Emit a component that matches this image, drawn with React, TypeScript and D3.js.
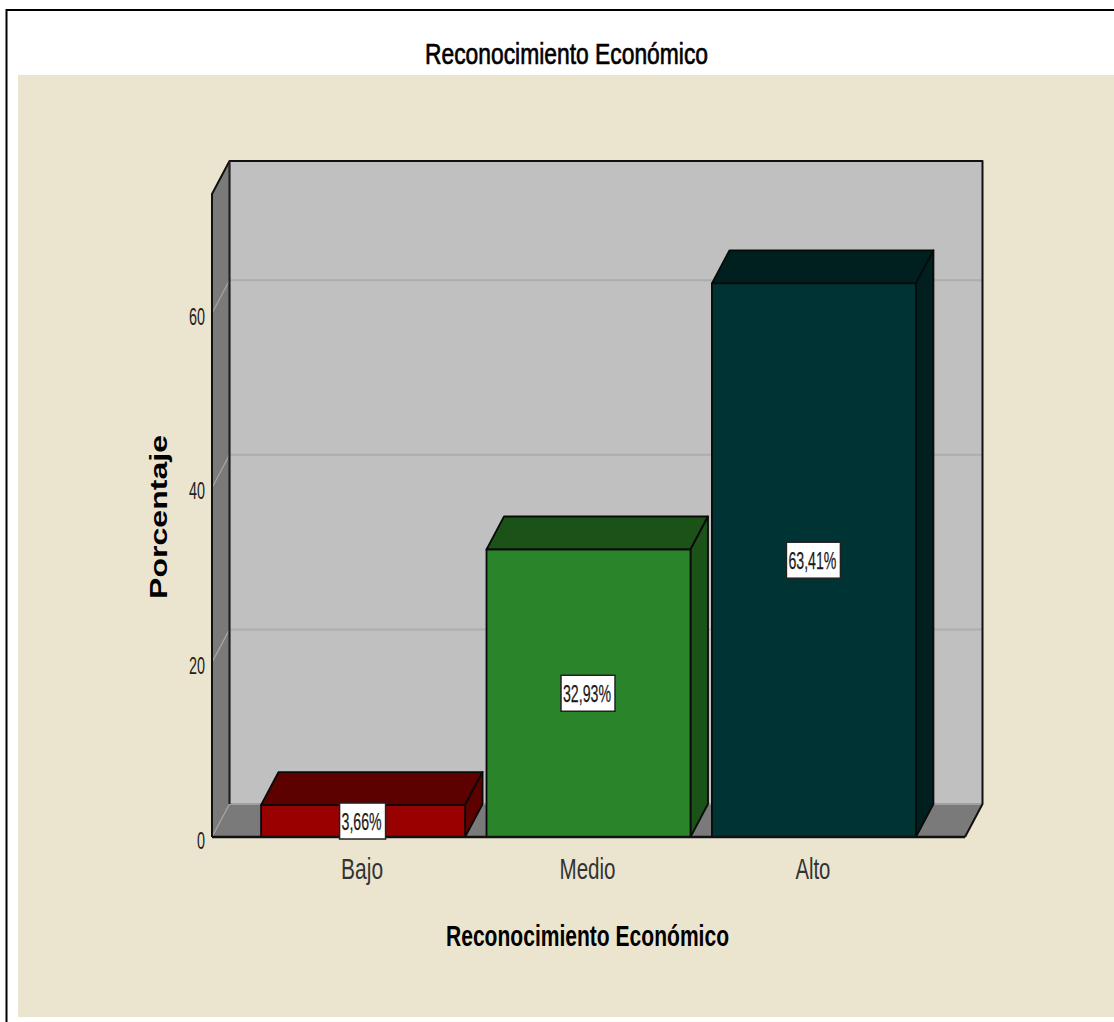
import React from "react";
import * as d3 from "d3";

const categories = ["Bajo", "Medio", "Alto"];
const percentages = [3.66, 32.93, 63.41];
const percentageLabels = ["3,66%", "32,93%", "63,41%"];
const frontColors = ["#990000", "#2a852a", "#003333"];
const shadeColors = ["#5c0000", "#1a5217", "#001f1f"];
const yTicks = [0, 20, 40, 60];
const chartTitle = "Reconocimiento Económico";
const yTitle = "Porcentaje";
const xTitle = "Reconocimiento Económico";

const W = 1114;
const H = 1022;
const DX = 17.5; // horizontal depth of the 3D box
const DY = -33; // vertical depth of the 3D box
const FONT = "'Liberation Sans', Arial, sans-serif";

const yMax = 73.65;
const y = d3.scaleLinear().domain([0, yMax]).range([837, 194]);
const x = d3
  .scaleBand<string>()
  .domain(categories)
  .range([250.25, 926.75])
  .paddingInner(0.095)
  .paddingOuter(0.048);

const floorLeft = 212;
const floorRight = 965;
const line = d3.line();
const poly = (pts: [number, number][]) => line(pts) + "Z";

// Horizontally squeezed or stretched text, as the chart's fonts are not natural width.
function FitText(props: {
  x: number;
  y: number;
  len: number;
  size: number;
  bold?: boolean;
  weight?: number;
  color?: string;
  anchor?: string;
  rotate?: boolean;
  children: string;
}) {
  const { x: tx, y: ty, len, size, bold, weight = 0, color = "#000", anchor = "middle", rotate, children } = props;
  return (
    <text
      x={rotate ? 0 : tx}
      y={rotate ? 0 : ty}
      transform={rotate ? `translate(${tx},${ty}) rotate(-90)` : undefined}
      fontFamily={FONT}
      fontSize={size}
      fontWeight={bold ? 700 : 400}
      fill={color}
      stroke={weight ? color : "none"}
      strokeWidth={weight}
      textAnchor={anchor}
      textLength={len}
      lengthAdjust="spacingAndGlyphs"
    >
      {children}
    </text>
  );
}

export default function App() {
  const y0 = y(0);
  const yTop = y(yMax);
  return (
    <svg
      width={W}
      height={H}
      viewBox={`0 0 ${W} ${H}`}
      style={{ position: "absolute", left: 0, top: 0, background: "#fff" }}
    >
      {/* page frame and panel */}
      <rect x={18} y={75} width={W - 18} height={942} fill="#ebe5d0" />
      <path d={`M6.5,${H}V10H${W}`} fill="none" stroke="#000" strokeWidth={2} />

      {/* 3D walls */}
      <rect x={floorLeft + DX} y={yTop + DY} width={floorRight - floorLeft} height={y0 - yTop} fill="#c0c0c0" />
      <path
        d={poly([
          [floorLeft, yTop],
          [floorLeft + DX, yTop + DY],
          [floorLeft + DX, y0 + DY],
          [floorLeft, y0],
        ])}
        fill="#7a7a7a"
      />
      <path
        d={poly([
          [floorLeft, y0],
          [floorLeft + DX, y0 + DY],
          [floorRight + DX, y0 + DY],
          [floorRight, y0],
        ])}
        fill="#7a7a7a"
      />

      {/* gridlines on back and side walls */}
      {yTicks.map((t) => (
        <g key={t} fill="none">
          <line
            x1={floorLeft + DX}
            x2={floorRight + DX}
            y1={y(t) + DY}
            y2={y(t) + DY}
            stroke={t === 0 ? "#a0a0a0" : "#adadad"}
            strokeWidth={2}
          />
          <line x1={floorLeft} x2={floorLeft + DX} y1={y(t)} y2={y(t) + DY} stroke="#a6a6a6" strokeWidth={1.2} />
        </g>
      ))}

      {/* wall outlines */}
      <path
        d={`M${floorLeft},${y0}V${yTop}L${floorLeft + DX},${yTop + DY}H${floorRight + DX}V${y0 + DY}L${floorRight},${y0}`}
        fill="none"
        stroke="#111"
        strokeWidth={2}
        strokeLinejoin="round"
      />
      <line x1={floorLeft + DX} x2={floorLeft + DX} y1={yTop + DY} y2={y0 + DY} stroke="#222" strokeWidth={2.2} />

      {/* bars */}
      {categories.map((c, i) => {
        const x0 = x(c)!;
        const x1 = x0 + x.bandwidth();
        const top = y(percentages[i]);
        return (
          <g key={c} stroke="#0a0a0a" strokeWidth={1.8} strokeLinejoin="round">
            <path
              d={poly([
                [x0, top],
                [x0 + DX, top + DY],
                [x1 + DX, top + DY],
                [x1, top],
              ])}
              fill={shadeColors[i]}
            />
            <path
              d={poly([
                [x1, top],
                [x1 + DX, top + DY],
                [x1 + DX, y0 + DY],
                [x1, y0],
              ])}
              fill={shadeColors[i]}
            />
            <rect x={x0} y={top} width={x1 - x0} height={y0 - top} fill={frontColors[i]} />
          </g>
        );
      })}

      {/* baseline drawn over the floor */}
      <line x1={floorLeft} x2={floorRight} y1={y0} y2={y0} stroke="#111" strokeWidth={2.6} />

      {/* value labels */}
      {categories.map((c, i) => {
        const cx = x(c)! + x.bandwidth() / 2 - 0.5;
        const cy = y(percentages[i] / 2);
        const w = percentageLabels[i].length === 5 ? 46 : 54;
        return (
          <g key={c}>
            <rect x={cx - w / 2} y={cy - 18} width={w} height={36} fill="#fff" stroke="#222" strokeWidth={1.5} />
            <FitText x={cx - w / 2 + 2} y={cy + 9} len={w - 6} size={23} color="#1a1a1a" anchor="start" weight={0.25}>
              {percentageLabels[i]}
            </FitText>
          </g>
        );
      })}

      {/* tick labels */}
      {yTicks.map((t) => (
        <FitText
          key={t}
          x={205}
          y={y(t) + 11.5}
          len={t === 0 ? 8 : 16}
          size={23}
          anchor="end"
          color="#222"
        >
          {String(t)}
        </FitText>
      ))}
      {categories.map((c, i) => (
        <FitText
          key={c}
          x={x(c)! + x.bandwidth() / 2 - 1}
          y={879}
          len={[42, 56, 35][i]}
          size={30}
          color="#333"
        >
          {c}
        </FitText>
      ))}

      {/* titles */}
      <FitText x={566.5} y={64} len={283} size={30} weight={0.7}>
        {chartTitle}
      </FitText>
      <FitText x={587.5} y={946} len={283} size={30} bold>
        {xTitle}
      </FitText>
      <FitText x={167} y={517} len={164} size={24} bold rotate>
        {yTitle}
      </FitText>
    </svg>
  );
}
